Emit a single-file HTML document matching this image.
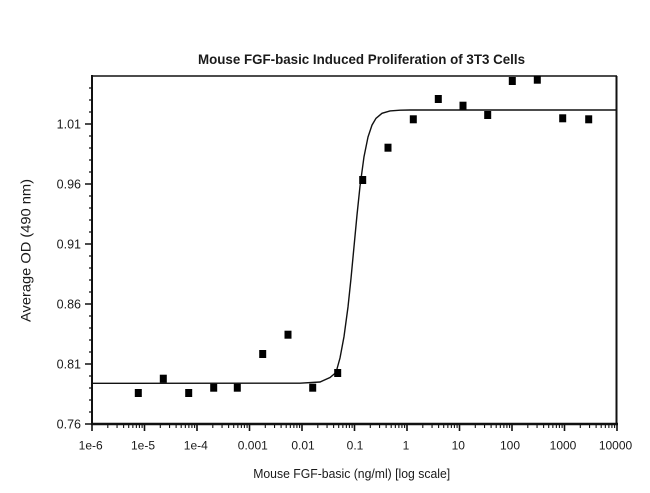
<!DOCTYPE html>
<html><head><meta charset="utf-8"><style>
html,body{margin:0;padding:0;background:#fff;}
svg{display:block;}
text{font-family:"Liberation Sans",Arial,sans-serif;fill:#1a1a1a;}
</style></head><body>
<svg width="650" height="493" viewBox="0 0 650 493" xmlns="http://www.w3.org/2000/svg">
<rect x="0" y="0" width="650" height="493" fill="#fff"/>
<!-- title -->
<text x="361.5" y="64" font-size="14" font-weight="bold" text-anchor="middle" textLength="327" lengthAdjust="spacingAndGlyphs">Mouse FGF-basic Induced Proliferation of 3T3 Cells</text>
<!-- frame -->
<line x1="92" y1="76" x2="617" y2="76" stroke="#111" stroke-width="1.5"/>
<line x1="616.5" y1="76" x2="616.5" y2="425" stroke="#111" stroke-width="2"/>
<line x1="92" y1="75" x2="92" y2="425" stroke="#111" stroke-width="2"/>
<line x1="91" y1="424" x2="618" y2="424" stroke="#111" stroke-width="2.4"/>
<!-- y major ticks -->
<path d="M85 424H92M85 364H92M85 304H92M85 244H92M85 184H92M85 124H92" stroke="#111" stroke-width="1.6"/>
<!-- y minor ticks -->
<path d="M89 412H92M89 400H92M89 388H92M89 376H92M89 352H92M89 340H92M89 328H92M89 316H92M89 292H92M89 280H92M89 268H92M89 256H92M89 232H92M89 220H92M89 208H92M89 196H92M89 172H92M89 160H92M89 148H92M89 136H92M89 112H92M89 100H92M89 88H92" stroke="#111" stroke-width="1.2"/>
<!-- x major ticks -->
<path d="M92 424V431M144.5 424V431M197 424V431M249.5 424V431M302 424V431M354.5 424V431M407 424V431M459.5 424V431M512 424V431M564.5 424V431M617 424V431" stroke="#111" stroke-width="1.6"/>
<!-- x minor ticks -->
<path stroke="#111" stroke-width="1.1" d="
M107.8 424v4M117.05 424v4M123.61 424v4M128.7 424v4M132.85 424v4M136.37 424v4M139.41 424v4M142.1 424v4
M160.3 424v4M169.55 424v4M176.11 424v4M181.2 424v4M185.35 424v4M188.87 424v4M191.91 424v4M194.6 424v4
M212.8 424v4M222.05 424v4M228.61 424v4M233.7 424v4M237.85 424v4M241.37 424v4M244.41 424v4M247.1 424v4
M265.3 424v4M274.55 424v4M281.11 424v4M286.2 424v4M290.35 424v4M293.87 424v4M296.91 424v4M299.6 424v4
M317.8 424v4M327.05 424v4M333.61 424v4M338.7 424v4M342.85 424v4M346.37 424v4M349.41 424v4M352.1 424v4
M370.3 424v4M379.55 424v4M386.11 424v4M391.2 424v4M395.35 424v4M398.87 424v4M401.91 424v4M404.6 424v4
M422.8 424v4M432.05 424v4M438.61 424v4M443.7 424v4M447.85 424v4M451.37 424v4M454.41 424v4M457.1 424v4
M475.3 424v4M484.55 424v4M491.11 424v4M496.2 424v4M500.35 424v4M503.87 424v4M506.91 424v4M509.6 424v4
M527.8 424v4M537.05 424v4M543.61 424v4M548.7 424v4M552.85 424v4M556.37 424v4M559.41 424v4M562.1 424v4
M580.3 424v4M589.55 424v4M596.11 424v4M601.2 424v4M605.35 424v4M608.87 424v4M611.91 424v4M614.6 424v4"/>
<!-- y labels -->
<g font-size="12.5" text-anchor="end">
<text x="81" y="428.5">0.76</text>
<text x="81" y="368.5">0.81</text>
<text x="81" y="308.5">0.86</text>
<text x="81" y="248.5">0.91</text>
<text x="81" y="188.5">0.96</text>
<text x="81" y="128.5">1.01</text>
</g>
<!-- x labels -->
<g font-size="12" text-anchor="middle">
<text x="90.7" y="449.5">1e-6</text>
<text x="143" y="449.5">1e-5</text>
<text x="195.8" y="449.5">1e-4</text>
<text x="252.8" y="449.5">0.001</text>
<text x="303" y="449.5">0.01</text>
<text x="355" y="449.5">0.1</text>
<text x="406" y="449.5">1</text>
<text x="458.3" y="449.5">10</text>
<text x="510" y="449.5">100</text>
<text x="563" y="449.5">1000</text>
<text x="615.5" y="449.5">10000</text>
</g>
<!-- axis titles -->
<text x="351.7" y="478" font-size="12.5" text-anchor="middle" textLength="197" lengthAdjust="spacingAndGlyphs">Mouse FGF-basic (ng/ml) [log scale]</text>
<text transform="translate(30.7,250.5) rotate(-90)" x="0" y="0" font-size="13.5" text-anchor="middle" textLength="143" lengthAdjust="spacingAndGlyphs">Average OD (490 nm)</text>
<!-- fitted curve -->
<path fill="none" stroke="#111" stroke-width="1.4" d="M92 383.3 L300 383.2 L320 382 L330 377.5 L336 372.5 L340 358 L344 336.6 L348 307 L351 278.4 L354 246.7 L357 215 L360 186.3 L364 156.7 L368 137 L372 125.1 L376 118.3 L382 113.3 L390 110.9 L400 110.2 L410 110 L616 110"/>
<!-- data points -->
<g fill="#000">
<rect x="134.8" y="389" width="7" height="8"/>
<rect x="159.8" y="374.7" width="7" height="8"/>
<rect x="185.2" y="389" width="7" height="8"/>
<rect x="210.2" y="383.7" width="7" height="8"/>
<rect x="233.8" y="383.7" width="7" height="8"/>
<rect x="259.2" y="350" width="7" height="8"/>
<rect x="284.5" y="330.7" width="7" height="8"/>
<rect x="309.2" y="383.7" width="7" height="8"/>
<rect x="334.2" y="369" width="7" height="8"/>
<rect x="359.2" y="176" width="7" height="8"/>
<rect x="384.5" y="143.7" width="7" height="8"/>
<rect x="409.8" y="115.3" width="7" height="8"/>
<rect x="434.8" y="95" width="7" height="8"/>
<rect x="459.5" y="101.7" width="7" height="8"/>
<rect x="484.2" y="111" width="7" height="8"/>
<rect x="508.8" y="77" width="7" height="8"/>
<rect x="533.8" y="75.7" width="7" height="8"/>
<rect x="559.2" y="114.3" width="7" height="8"/>
<rect x="585.2" y="115.3" width="7" height="8"/>
</g>
</svg>
</body></html>
